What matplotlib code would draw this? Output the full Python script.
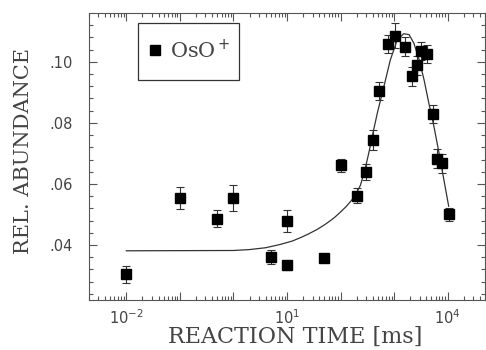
import matplotlib as mpl
mpl.use('Agg')

import numpy as np
import matplotlib.pyplot as plt
from matplotlib.lines import Line2D
from matplotlib.patches import Rectangle
from matplotlib.ticker import FixedLocator, FuncFormatter, NullFormatter

time_ms = [0.01, 0.1, 0.5, 1.0, 5.0, 10.0, 10.0, 50.0, 100.0, 200.0, 300.0, 400.0,
           520.0, 760.0, 1060.0, 1580.0, 2140.0, 2630.0, 3200.0, 4200.0, 5400.0,
           6400.0, 7900.0, 10500.0]
abundance = [0.0304, 0.0554, 0.0486, 0.0554, 0.0360, 0.0334, 0.0478, 0.0356, 0.0661,
             0.0562, 0.0639, 0.0745, 0.0905, 0.1059, 0.1086, 0.1050, 0.0952, 0.0988,
             0.1036, 0.1026, 0.0830, 0.0683, 0.0667, 0.0500]
err = [0.0027, 0.0037, 0.0028, 0.0043, 0.0022, 0.0015, 0.0035, 0.0010, 0.0022,
       0.0025, 0.0025, 0.0033, 0.0030, 0.0030, 0.0040, 0.0030, 0.0030, 0.0030,
       0.0030, 0.0030, 0.0030, 0.0030, 0.0030, 0.0020]

# fitted kinetic curve (log10 time, abundance)
fit_logt = [-2.0, 0.0, 0.3, 0.6, 0.879, 1.1, 1.252, 1.4, 1.564, 1.7, 1.813, 1.9,
            2.0, 2.1, 2.2, 2.28, 2.37, 2.45, 2.53, 2.6, 2.686, 2.81, 2.93, 3.06,
            3.18, 3.28, 3.37, 3.47, 3.56, 3.65, 3.745, 3.84, 3.93, 4.02]
fit_abund = [0.0381, 0.0382, 0.0385, 0.0391, 0.0402, 0.0413, 0.0424, 0.0436, 0.0451,
             0.0466, 0.0480, 0.0492, 0.0508, 0.0525, 0.0545, 0.0564, 0.0595, 0.0642,
             0.0703, 0.0762, 0.0831, 0.0919, 0.1006, 0.1072, 0.1092, 0.1089, 0.1061,
             0.1006, 0.0941, 0.0864, 0.0788, 0.0701, 0.0614, 0.0527]

txt_col = '#444444'
fig = plt.figure(figsize=(4.86, 3.5), dpi=100)
ax = fig.add_axes([0.183, 0.143, 0.815, 0.82])

ax.plot(10 ** np.array(fit_logt), fit_abund, color='#333333', lw=0.9, zorder=1)
ax.errorbar(time_ms, abundance, yerr=err, fmt='s', color='black', ms=7,
            ecolor='#333333', elinewidth=0.8, capsize=3, capthick=0.8, zorder=3)

ax.set_xscale('log')
ax.set_xlim(2e-3, 5e4)
ax.set_ylim(0.022, 0.116)

# decades as major ticks, only every third one labelled
decades = list(range(-3, 5))
ax.xaxis.set_major_locator(FixedLocator([10.0 ** e for e in decades]))
ax.xaxis.set_minor_locator(FixedLocator([m * 10.0 ** e for e in decades for m in range(2, 10)]))
def xfmt(v, pos):
    e = int(round(np.log10(v)))
    if e in (-2, 1, 4):
        return f'$10^{{{e}}}$'
    return ''
ax.xaxis.set_major_formatter(FuncFormatter(xfmt))
ax.xaxis.set_minor_formatter(NullFormatter())

ax.yaxis.set_major_locator(FixedLocator([0.04, 0.06, 0.08, 0.10]))
ax.yaxis.set_minor_locator(FixedLocator(np.arange(0.024, 0.116, 0.004)))
ax.yaxis.set_major_formatter(FuncFormatter(lambda v, p: f'{v:.2f}'.lstrip('0')))

ax.tick_params(which='both', direction='in', top=True, right=True,
               colors='#555555', labelcolor=txt_col, labelsize=10.5, width=0.8)
ax.tick_params(which='major', length=6)
ax.tick_params(which='minor', length=3)
ax.tick_params(axis='x', pad=6)
ax.tick_params(axis='y', pad=12)
for s in ax.spines.values():
    s.set_color('#555555')
    s.set_linewidth(0.8)

ax.set_xlabel('REACTION TIME [ms]', family='DejaVu Serif', fontsize=16, color=txt_col)
ax.set_ylabel('REL. ABUNDANCE', family='DejaVu Serif', fontsize=15, color=txt_col)
ax.xaxis.set_label_coords(0.52, -0.09)
ax.yaxis.set_label_coords(-0.141, 0.52)

# legend box
ax.add_patch(Rectangle((0.124, 0.767), 0.255, 0.198, transform=ax.transAxes,
                       fill=False, edgecolor='#333333', lw=0.9, zorder=4))
proxy = Line2D([], [], ls='none', marker='s', ms=7, color='black')
leg = ax.legend([proxy], ['OsO$^+$'], loc='center left', bbox_to_anchor=(0.146, 0.871),
                frameon=False, borderpad=0, borderaxespad=0, handletextpad=0.3,
                handlelength=0.8, prop={'family': 'DejaVu Serif', 'size': 15})
for t in leg.get_texts():
    t.set_color(txt_col)

fig.savefig('out.png', dpi=100)
